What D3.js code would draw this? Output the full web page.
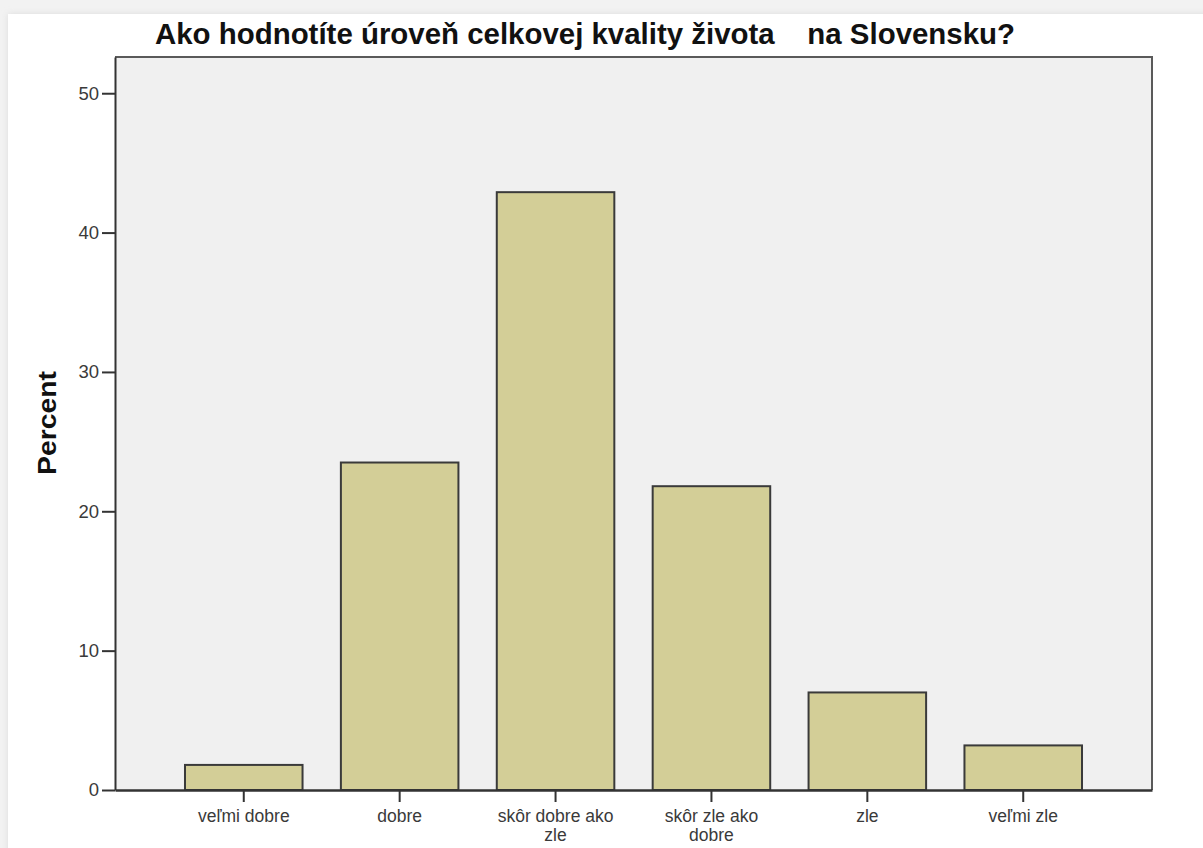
<!DOCTYPE html>
<html>
<head>
<meta charset="utf-8">
<script src="https://cdn.jsdelivr.net/npm/d3@7"></script>
<style>
  html, body { margin: 0; padding: 0; background: #f2f2f2; }
  svg { display: block; }
  text { font-family: "Liberation Sans", Arial, sans-serif; }
</style>
</head>
<body>
<svg id="chart" width="1203" height="848"></svg>
<script>
const titleText = "Ako hodnotíte úroveň celkovej kvality života    na Slovensku?";
const yTitle = "Percent";
const categories = [
  ["veľmi dobre"],
  ["dobre"],
  ["skôr dobre ako", "zle"],
  ["skôr zle ako", "dobre"],
  ["zle"],
  ["veľmi zle"]
];
const percents = [1.8, 23.5, 42.9, 21.8, 7.0, 3.2];
const yTicks = [0, 10, 20, 30, 40, 50];

const svg = d3.select("#chart");
const W = 1203, H = 848;
const plot = { left: 115, right: 1152, top: 57, bottom: 790 };

// page background and card
svg.append("rect").attr("x", 0).attr("y", 0).attr("width", W).attr("height", H).attr("fill", "#f2f2f2");
const defs = svg.append("defs");
const f = defs.append("filter").attr("id", "sh").attr("x", "-5%").attr("y", "-5%").attr("width", "110%").attr("height", "110%");
f.append("feGaussianBlur").attr("stdDeviation", 3);
svg.append("rect").attr("x", 8).attr("y", 14).attr("width", W).attr("height", H).attr("fill", "#dcdcdc").attr("filter", "url(#sh)");
svg.append("rect").attr("x", 8).attr("y", 14).attr("width", W).attr("height", H).attr("fill", "#ffffff");

const keys = categories.map((c, i) => String(i));
const x = d3.scaleBand().domain(keys).range([plot.left, plot.right]).paddingInner(0.246).paddingOuter(0.449);
const y = d3.scaleLinear().domain([0, 52.6]).range([plot.bottom, plot.top]);

// plot background
svg.append("rect")
  .attr("x", plot.left).attr("y", plot.top)
  .attr("width", plot.right - plot.left).attr("height", plot.bottom - plot.top)
  .attr("fill", "#f0f0f0");

// frame top & right
svg.append("path")
  .attr("d", `M${plot.left},${plot.top}H${plot.right}V${plot.bottom}`)
  .attr("fill", "none").attr("stroke", "#5a5a5a").attr("stroke-width", 2);

// bars
svg.append("g").selectAll("rect").data(percents).join("rect")
  .attr("x", (d, i) => x(keys[i]))
  .attr("y", d => y(d))
  .attr("width", x.bandwidth())
  .attr("height", d => y(0) - y(d))
  .attr("fill", "#d3ce97")
  .attr("stroke", "#3a3a3a")
  .attr("stroke-width", 2);

// y axis
const yAxis = d3.axisLeft(y).tickValues(yTicks).tickSize(13).tickSizeOuter(0).tickPadding(3).tickFormat(d3.format("d"));
const gy = svg.append("g").attr("transform", `translate(${plot.left},0)`).call(yAxis);
gy.select(".domain").attr("stroke", "#333").attr("stroke-width", 2);
gy.selectAll(".tick line").attr("stroke", "#333").attr("stroke-width", 2);
gy.selectAll(".tick text").attr("font-size", 18.5).attr("fill", "#3a3a3a")
  .attr("font-family", "'Liberation Sans', Arial, sans-serif");

// x axis
const xAxis = d3.axisBottom(x).tickSize(12).tickSizeOuter(0).tickFormat("");
const gx = svg.append("g").attr("transform", `translate(0,${plot.bottom})`).call(xAxis);
gx.select(".domain").attr("stroke", "#333").attr("stroke-width", 2.5);
gx.selectAll(".tick line").attr("stroke", "#333").attr("stroke-width", 2);
gx.selectAll(".tick").each(function(k, i) {
  const t = d3.select(this).append("text")
    .attr("fill", "#3a3a3a").attr("font-size", 17.5)
    .attr("text-anchor", "middle")
    .attr("font-family", "'Liberation Sans', Arial, sans-serif");
  categories[i].forEach((line, j) => {
    t.append("tspan").attr("x", 0).attr("y", 32 + j * 18.5).text(line);
  });
});

// title
svg.append("text")
  .attr("x", 155).attr("y", 44)
  .attr("font-size", 29).attr("font-weight", "bold").attr("fill", "#111")
  .attr("textLength", 860).attr("lengthAdjust", "spacingAndGlyphs")
  .style("white-space", "pre")
  .text(titleText);

// y title
svg.append("text")
  .attr("transform", "translate(56,423) rotate(-90)")
  .attr("text-anchor", "middle")
  .attr("font-size", 25).attr("font-weight", "bold").attr("fill", "#111")
  .attr("textLength", 104).attr("lengthAdjust", "spacingAndGlyphs")
  .text(yTitle);
</script>
</body>
</html>
